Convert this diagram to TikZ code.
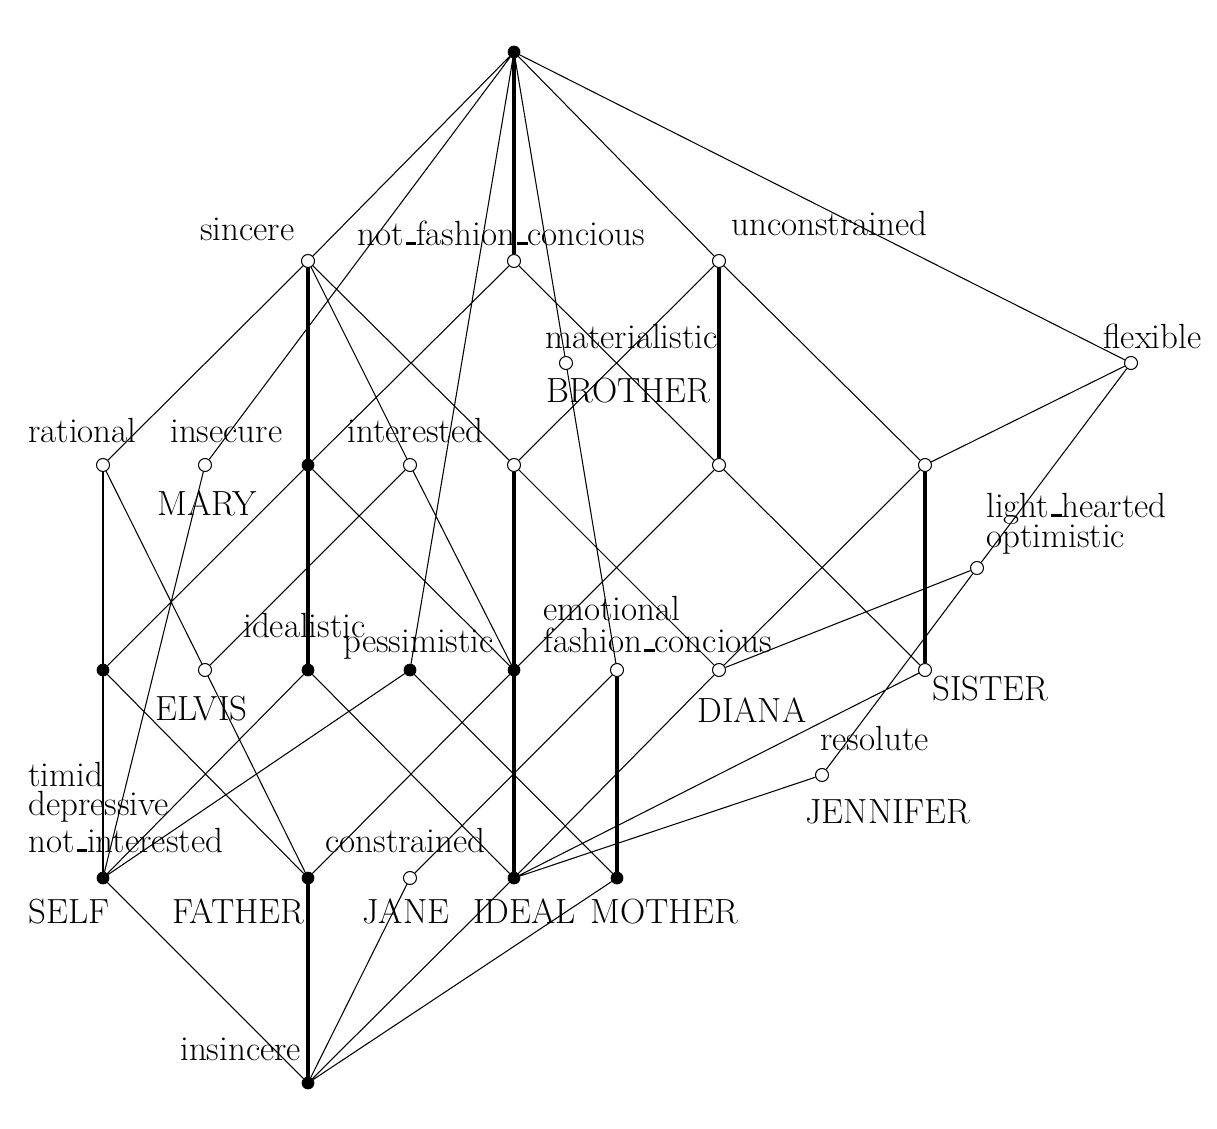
\documentclass[tikz,border=0pt]{standalone}
\newcommand\usc{\leavevmode\kern.06em\rule{.3em}{.09em}}
\begin{document}
\begin{tikzpicture}[x=0.02cm,y=-0.02cm,
  fn/.style={circle,draw=black,fill=black,inner sep=0pt,minimum size=0.24cm},
  on/.style={circle,draw=black,fill=white,line width=0.6pt,inner sep=0pt,minimum size=0.26cm},
  lbl/.style={anchor=base west,inner sep=0pt,font=\fontsize{19.9}{22}\selectfont},
  thin/.style={line width=0.6pt},
  med/.style={line width=1.2pt},
  thk/.style={line width=2.4pt}]
\useasboundingbox (0,0) rectangle (1217,1129);
% nodes
\node[fn] (T) at (514,52) {};
\node[on] (A1) at (308,261) {};
\node[on] (A2) at (514,261) {};
\node[on] (A3) at (719,261) {};
\node[on] (BRO) at (566,363) {};
\node[on] (FLEX) at (1131,363) {};
\node[on] (B1) at (103,465) {};
\node[on] (B2) at (205,465) {};
\node[fn] (B3) at (308,465) {};
\node[on] (B4) at (410,465) {};
\node[on] (B5) at (514,465) {};
\node[on] (B6) at (719,465) {};
\node[on] (B7) at (925,465) {};
\node[on] (LH) at (977,568) {};
\node[fn] (C1) at (103,670) {};
\node[on] (C2) at (205,670) {};
\node[fn] (C3) at (308,670) {};
\node[fn] (C4) at (410,670) {};
\node[fn] (C5) at (514,670) {};
\node[on] (C6) at (617,670) {};
\node[on] (C7) at (719,670) {};
\node[on] (C8) at (925,670) {};
\node[on] (JEN) at (822,775) {};
\node[fn] (D1) at (103,878) {};
\node[fn] (D2) at (308,878) {};
\node[on] (D3) at (410,878) {};
\node[fn] (D4) at (514,878) {};
\node[fn] (D5) at (617,878) {};
\node[fn] (BOT) at (308,1083) {};
% thin edges
\draw[thin] (T)--(A1) (T)--(B2) (T)--(C4) (T)--(BRO) (BRO)--(C6) (T)--(A3) (T)--(FLEX)
  (A1)--(B1) (A1)--(B4) (A1)--(B5)
  (A2)--(B3) (A2)--(B6)
  (A3)--(B5) (A3)--(B7)
  (FLEX)--(B7) (FLEX)--(LH) (LH)--(JEN) (LH)--(C7)
  (B1)--(C2) (B2)--(D1)
  (B3)--(C1) (B3)--(C5)
  (B4)--(C2) (B4)--(C5)
  (B5)--(C7)
  (B6)--(C5) (B6)--(C8)
  (B7)--(C7)
  (C1)--(D2) (C2)--(D2)
  (C3)--(D1) (C3)--(D4)
  (C4)--(D1) (C4)--(D5)
  (C5)--(D2) (C6)--(D3)
  (C7)--(D4) (C8)--(D4) (JEN)--(D4)
  (D1)--(BOT) (D3)--(BOT) (D4)--(BOT) (D5)--(BOT);
\draw[med] (B1)--(C1) (C1)--(D1);
\draw[thk] (T)--(A2) (A1)--(B3) (B3)--(C3) (A3)--(B6) (B5)--(C5) (C5)--(D4) (B7)--(C8) (C6)--(D5) (D2)--(BOT);
% labels
\node[lbl] (l1) at (200,240) {sincere};
\node[lbl] (l2) at (357,245) {not\usc fashion\usc concious};
\node[lbl] (l3) at (731,235) {unconstrained};
\node[lbl] (l4) at (545,348) {materialistic};
\node[lbl] (l5) at (546,402) {BROTHER};
\node[lbl] (l6) at (1103,348) {flexible};
\node[lbl] (l7) at (28,442) {rational};
\node[lbl] (l8) at (170,442) {insecure};
\node[lbl] (l9) at (347,442) {interested};
\node[lbl] (l10) at (157,515) {MARY};
\node[lbl] (l11) at (986,517) {light\usc hearted};
\node[lbl] (l12) at (986,547) {optimistic};
\node[lbl] (l13) at (243,637) {idealistic};
\node[lbl] (l14) at (343,652) {pessimistic};
\node[lbl] (l15) at (543,620) {emotional};
\node[lbl] (l16) at (543,652) {fashion\usc concious};
\node[lbl] (l17) at (155,720) {ELVIS};
\node[lbl] (l18) at (697,722) {DIANA};
\node[lbl] (l19) at (932,700) {SISTER};
\node[lbl] (l20) at (820,750) {resolute};
\node[lbl] (l21) at (805,823) {JENNIFER};
\node[lbl] (l22) at (28,786) {timid};
\node[lbl] (l23) at (28,815) {depressive};
\node[lbl] (l24) at (28,852) {not\usc interested};
\node[lbl] (l25) at (325,852) {constrained};
\node[lbl] (l26) at (28,923) {SELF};
\node[lbl] (l27) at (172,923) {FATHER};
\node[lbl] (l28) at (362,923) {JANE};
\node[lbl] (l29) at (473,923) {IDEAL};
\node[lbl] (l30) at (590,923) {MOTHER};
\node[lbl] (l31) at (180,1060) {insincere};
\end{tikzpicture}
\end{document}
